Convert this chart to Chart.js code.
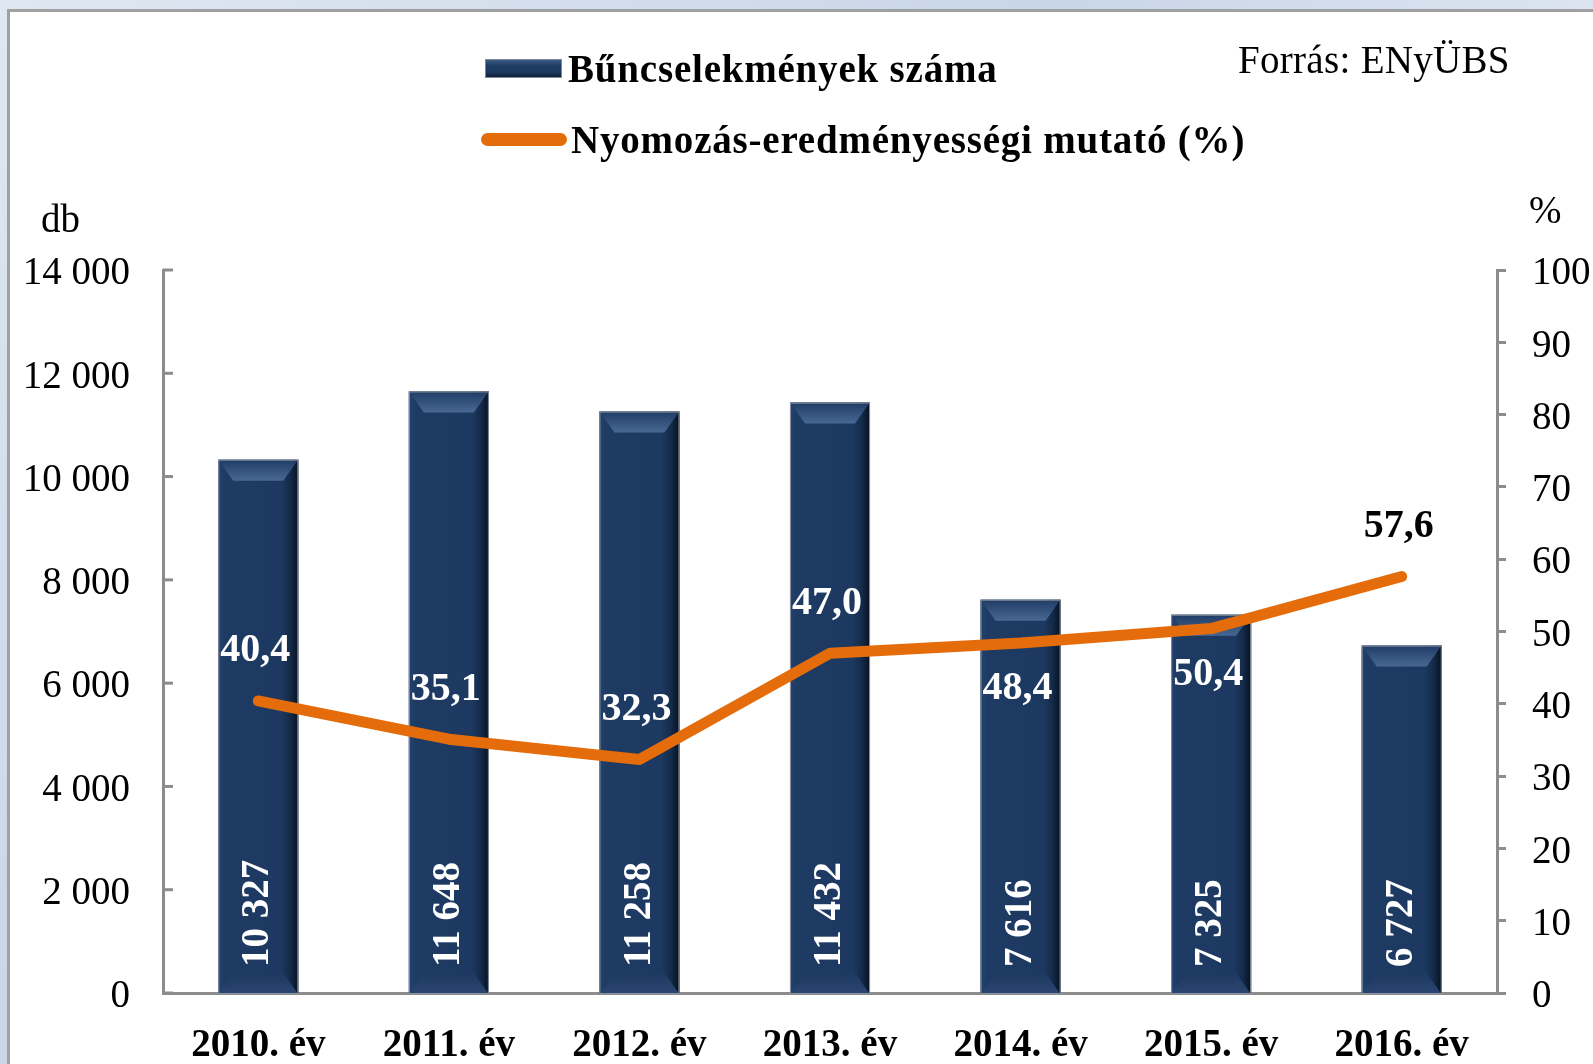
<!DOCTYPE html>
<html>
<head>
<meta charset="utf-8">
<script src="https://cdn.jsdelivr.net/npm/chart.js@4.4.1/dist/chart.umd.min.js"></script>
<style>
  html, body { margin: 0; padding: 0; }
  body {
    width: 1593px; height: 1064px; overflow: hidden; position: relative;
    background: linear-gradient(135deg, #dfe7f1 0%, #c9d6e8 40%, #e4ebf4 70%, #d2ddec 100%);
    font-family: "Liberation Serif", "Times New Roman", serif;
  }
  #panel {
    position: absolute; left: 7px; top: 9px; width: 1600px; height: 1100px;
    background: #fff; border: 3px solid #a0a0a0; box-sizing: border-box;
  }
  #wrap { position: absolute; left: 0; top: 0; width: 1593px; height: 1064px; }
  .txt { position: absolute; color: #000; white-space: nowrap; line-height: 1; }
  .legend-item { position: absolute; left: 481px; height: 40px; display: flex; align-items: center; }
  .legend-item span { font-weight: bold; font-size: 39px; margin-left: 6px; letter-spacing: 0.8px; }
  .swatch-bar {
    width: 77px; height: 19px; margin-left: 4px;
    background: linear-gradient(to bottom, #3b5b86 0%, #1d3a62 35%, #1d3a62 70%, #0f2038 100%);
    border: 1px solid #7f8a99; box-sizing: border-box;
  }
  .swatch-line { width: 86px; height: 13px; border-radius: 7px; background: #e46c0a; }
</style>
</head>
<body>
<div id="panel"></div>
<div id="wrap"><canvas id="crimeChart"></canvas></div>
<div class="legend-item" style="top:48px;"><div class="swatch-bar"></div><span id="leg0"></span></div>
<div class="legend-item" style="top:119px;"><div class="swatch-line"></div><span id="leg1" style="margin-left:4px;"></span></div>
<div class="txt" style="left:1238px; top:40px; font-size:39px; letter-spacing:0.3px;">Forrás: ENyÜBS</div>
<div class="txt" style="left:41px; top:199px; font-size:39px;">db</div>
<div class="txt" style="left:1529px; top:190px; font-size:39px;">%</div>
<script>
// Data
var years = ["2010. év", "2011. év", "2012. év", "2013. év", "2014. év", "2015. év", "2016. év"];
var crimeCounts = [10327, 11648, 11258, 11432, 7616, 7325, 6727];
var clearanceRate = [40.4, 35.1, 32.3, 47.0, 48.4, 50.4, 57.6];
var seriesNames = ["Bűncselekmények száma", "Nyomozás-eredményességi mutató (%)"];

document.getElementById("leg0").textContent = seriesNames[0];
document.getElementById("leg1").textContent = seriesNames[1];

var serif = '"Liberation Serif", "Times New Roman", serif';
var axisGray = "#8c8c8c";

// label above or below the line point (white labels sit on the bars)
var rateLabelSide = ["up", "up", "up", "up", "down", "down", "up"];

function fmtThousands(v) {
  return String(v).replace(/\B(?=(\d{3})+(?!\d))/g, " ");
}
function fmtComma(v) {
  return v.toFixed(1).replace(".", ",");
}

// bevelled look on the bars
var barBevel = {
  id: "barBevel",
  afterDatasetDraw: function (chart, args) {
    if (args.index !== 0) return;
    var ctx = chart.ctx;
    args.meta.data.forEach(function (bar) {
      var l = bar.x - bar.width / 2, r = bar.x + bar.width / 2;
      var t = bar.y, b = bar.base;
      ctx.save();
      var g = ctx.createLinearGradient(l, 0, r, 0);
      g.addColorStop(0, "#24426c");
      g.addColorStop(0.08, "#1e3b64");
      g.addColorStop(0.78, "#1d3961");
      g.addColorStop(0.9, "#142a49");
      g.addColorStop(1, "#07111f");
      ctx.fillStyle = g;
      ctx.fillRect(l, t, r - l, b - t);
      // top bevel
      var tg = ctx.createLinearGradient(0, t, 0, t + 22);
      tg.addColorStop(0, "#1f3c65");
      tg.addColorStop(1, "#4a6a95");
      ctx.fillStyle = tg;
      ctx.beginPath();
      ctx.moveTo(l + 1, t + 1);
      ctx.lineTo(r - 1, t + 1);
      ctx.lineTo(r - 15, t + 21);
      ctx.lineTo(l + 15, t + 21);
      ctx.closePath();
      ctx.fill();
      // bottom bevel
      var bg = ctx.createLinearGradient(0, b - 20, 0, b);
      bg.addColorStop(0, "#1d3961");
      bg.addColorStop(1, "#2a4670");
      ctx.fillStyle = bg;
      ctx.beginPath();
      ctx.moveTo(l + 15, b - 20);
      ctx.lineTo(r - 15, b - 20);
      ctx.lineTo(r - 1, b);
      ctx.lineTo(l + 1, b);
      ctx.closePath();
      ctx.fill();
      ctx.strokeStyle = "#8a93a0";
      ctx.lineWidth = 1;
      ctx.strokeRect(l + 0.5, t + 0.5, r - l - 1, b - t);
      ctx.restore();
    });
  }
};

// inward tick marks on the left axis
var leftTicks = {
  id: "leftTicks",
  afterDraw: function (chart) {
    var s = chart.scales.y, ctx = chart.ctx;
    ctx.save();
    ctx.strokeStyle = axisGray;
    ctx.lineWidth = 3;
    s.ticks.forEach(function (tk) {
      var py = s.getPixelForValue(tk.value);
      ctx.beginPath();
      ctx.moveTo(s.right, py);
      ctx.lineTo(s.right + 10, py);
      ctx.stroke();
    });
    ctx.restore();
  }
};

// value labels
var valueLabels = {
  id: "valueLabels",
  afterDatasetsDraw: function (chart) {
    var ctx = chart.ctx;
    var bars = chart.getDatasetMeta(0).data;
    var pts = chart.getDatasetMeta(1).data;
    ctx.save();
    ctx.font = "bold 39px " + serif;
    ctx.fillStyle = "#fff";
    bars.forEach(function (bar, i) {
      ctx.save();
      ctx.translate(bar.x, bar.base - 26);
      ctx.rotate(-Math.PI / 2);
      ctx.textAlign = "left";
      ctx.textBaseline = "middle";
      ctx.fillText(fmtThousands(crimeCounts[i]), 0, 0);
      ctx.restore();
    });
    ctx.font = "bold 40px " + serif;
    ctx.textAlign = "center";
    ctx.textBaseline = "middle";
    pts.forEach(function (p, i) {
      var dy = rateLabelSide[i] === "up" ? -50 : 46;
      ctx.fillStyle = i === pts.length - 1 ? "#000" : "#fff";
      ctx.fillText(fmtComma(clearanceRate[i]), p.x - 3, p.y + dy);
    });
    ctx.restore();
  }
};

var ctx = document.getElementById("crimeChart").getContext("2d");
var crimeChart = new Chart(ctx, {
  data: {
    labels: years,
    datasets: [
      {
        type: "bar",
        label: seriesNames[0],
        data: crimeCounts,
        yAxisID: "y",
        backgroundColor: "#1d3961",
        barPercentage: 0.42,
        categoryPercentage: 1,
        order: 1,
      },
      {
        type: "line",
        label: seriesNames[1],
        data: clearanceRate,
        yAxisID: "y1",
        borderColor: "#e46c0a",
        borderWidth: 11,
        borderCapStyle: "round",
        borderJoinStyle: "round",
        pointRadius: 0,
        tension: 0,
        order: 0,
      },
    ],
  },
  options: {
    responsive: true,
    maintainAspectRatio: false,
    animation: false,
    layout: { padding: { top: 270, left: 0, right: 0, bottom: 0 } },
    plugins: {
      legend: { display: false },
      tooltip: { enabled: false },
    },
    scales: {
      x: {
        grid: { display: false, drawTicks: false },
        border: { color: axisGray, width: 3 },
        ticks: {
          color: "#000",
          font: { family: serif, size: 39, weight: "bold" },
          padding: 30,
          maxRotation: 0,
        },
        afterFit: function (scale) { scale.height = 71; },
      },
      y: {
        position: "left",
        min: 0,
        max: 14000,
        grid: { display: false },
        border: { color: axisGray, width: 3 },
        ticks: {
          stepSize: 2000,
          color: "#000",
          font: { family: serif, size: 39 },
          padding: 25,
          labelOffset: 4,
          callback: function (v) { return fmtThousands(v); },
        },
        afterFit: function (scale) { scale.width = 163; },
      },
      y1: {
        position: "right",
        min: 0,
        max: 100,
        grid: { drawOnChartArea: false, color: axisGray, lineWidth: 3, tickLength: 9 },
        border: { color: axisGray, width: 3 },
        ticks: {
          stepSize: 10,
          color: "#000",
          font: { family: serif, size: 39 },
          padding: 26,
          labelOffset: 4,
        },
        afterFit: function (scale) { scale.width = 96; },
      },
    },
  },
  plugins: [barBevel, leftTicks, valueLabels],
});
</script>
</body>
</html>
